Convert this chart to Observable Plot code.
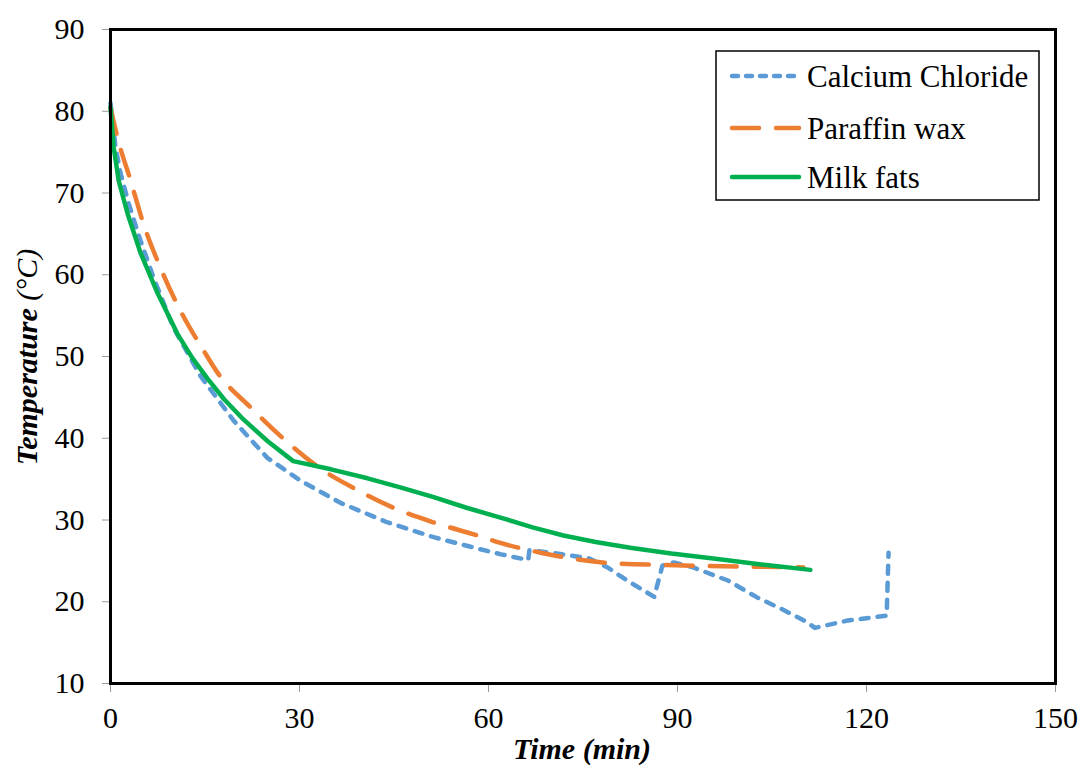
<!DOCTYPE html>
<html>
<head>
<meta charset="utf-8">
<script src="https://cdn.jsdelivr.net/npm/d3@7"></script>
<script src="https://cdn.jsdelivr.net/npm/@observablehq/plot@0.6"></script>
<style>
  html, body { margin: 0; padding: 0; background: #fff; }
  #chart { position: relative; width: 1082px; height: 767px; }
</style>
</head>
<body>
<div id="chart"></div>
<script>
// ---- Data (time in min, temperature in °C) ----
const seriesNames = ["Calcium Chloride", "Paraffin wax", "Milk fats"];
const seriesColors = ["#5B9BD5", "#ED7D31", "#00B050"];

const calciumTime = [0, 0.8, 1.6, 2.9, 4.4, 6.8, 10, 14.3, 19.5, 24.9, 30.2, 36.5, 44, 51.3, 58.3, 62, 66.3, 66.5, 70, 76, 78.9, 82, 86.3, 87.6, 89.4, 92.5, 98, 102.7, 106.3, 110.6, 111.8, 117, 123.2, 123.5];
const calciumTemp = [81.0, 75.6, 72.4, 68.7, 65.0, 59.7, 53.5, 47.6, 42.2, 37.6, 34.8, 32.1, 29.7, 27.9, 26.5, 25.8, 25.1, 26.3, 26.0, 25.3, 24.2, 22.6, 20.6, 24.4, 24.8, 24.2, 22.6, 20.5, 19.2, 17.5, 16.8, 17.7, 18.3, 26.0];

const paraffinTime = [0, 1.1, 3.2, 5.2, 7.9, 11.1, 14.8, 17.1, 22.2, 28.1, 33.3, 38.6, 44.9, 51.3, 58.7, 61.9, 68.3, 79.8, 87.8, 101, 110];
const paraffinTemp = [80.5, 76.8, 71.5, 66.3, 60.9, 55.6, 50.7, 47.9, 43.8, 39.5, 36.3, 33.9, 31.5, 29.7, 28.0, 27.2, 26.0, 24.7, 24.5, 24.3, 24.2];

const milkTime = [0, 0.5, 1.3, 2.7, 4.8, 7.5, 10.6, 13, 15.4, 18, 21.1, 25, 29.0, 35, 40.8, 46, 51.3, 56.5, 61.9, 67, 71.9, 77, 82.5, 89, 95.7, 103, 111.1];
const milkTemp = [80.5, 75.6, 71.5, 67.5, 62.6, 57.7, 52.8, 49.8, 47.3, 44.8, 42.3, 39.6, 37.2, 36.2, 35.1, 34.0, 32.8, 31.5, 30.3, 29.1, 28.1, 27.3, 26.6, 25.9, 25.3, 24.6, 23.9];

const xTicks = [0, 30, 60, 90, 120, 150];
const yTicks = [10, 20, 30, 40, 50, 60, 70, 80, 90];

// ---- Build table ----
const rows = [];
calciumTime.forEach((t, i) => rows.push({series: seriesNames[0], t, T: calciumTemp[i]}));
paraffinTime.forEach((t, i) => rows.push({series: seriesNames[1], t, T: paraffinTemp[i]}));
milkTime.forEach((t, i) => rows.push({series: seriesNames[2], t, T: milkTemp[i]}));

const FONT = "'Liberation Serif', 'Times New Roman', Times, serif";

const styles = {
  "Calcium Chloride": {dash: "8,9", width: 4.5, cap: "round", curve: "linear"},
  "Paraffin wax": {dash: "27,17", width: 4.5, cap: "round", curve: "monotone-x"},
  "Milk fats": {dash: null, width: 4.5, cap: "round", curve: "linear"}
};

const lineMarks = seriesNames.map((name, i) =>
  Plot.line(rows.filter(d => d.series === name), {
    x: "t", y: "T",
    stroke: seriesColors[i],
    strokeWidth: styles[name].width,
    strokeDasharray: styles[name].dash,
    strokeLinecap: styles[name].cap,
    strokeLinejoin: "round",
    curve: styles[name].curve
  })
);

const chart = Plot.plot({
  width: 1082,
  height: 767,
  marginLeft: 110,
  marginRight: 27,
  marginTop: 29,
  marginBottom: 84,
  style: {fontFamily: FONT, fontSize: "30px", color: "#000", background: "#fff", overflow: "visible"},
  x: {domain: [0, 150]},
  y: {domain: [10, 90]},
  marks: [
    Plot.axisX({ticks: xTicks, tickSize: 9, tickPadding: 14, stroke: "#9a9a9a", fill: "#000", fontSize: 30, label: null, tickFormat: d => String(d)}),
    Plot.axisY({ticks: yTicks, tickSize: 8, tickPadding: 18, stroke: "#9a9a9a", fill: "#000", fontSize: 30, label: null, tickFormat: d => String(d)}),
    ...lineMarks,
    Plot.frame({stroke: "#000", strokeWidth: 3})
  ]
});

document.getElementById("chart").appendChild(chart);

// ---- Axis titles & legend ----
const svg = d3.select(chart);
svg.append("text")
  .attr("x", 582).attr("y", 759)
  .attr("text-anchor", "middle")
  .style("font-family", FONT).style("font-size", "30px")
  .style("font-style", "italic").style("font-weight", "bold")
  .text("Time (min)");

const yl = svg.append("text")
  .attr("transform", "translate(37,357) rotate(-90)")
  .attr("text-anchor", "middle")
  .style("font-family", FONT).style("font-size", "30px")
  .style("font-style", "italic");
yl.append("tspan").style("font-weight", "bold").text("Temperature");
yl.append("tspan").text(" (\u00B0C)");

const lg = svg.append("g");
lg.append("rect")
  .attr("x", 716).attr("y", 51).attr("width", 323).attr("height", 149)
  .attr("fill", "#fff").attr("stroke", "#000").attr("stroke-width", 1.5);
const rowY = [76, 128, 177];
const legendDash = ["6,8", "27,17", null];
seriesNames.forEach((name, i) => {
  lg.append("line")
    .attr("x1", 732).attr("x2", 799).attr("y1", rowY[i]).attr("y2", rowY[i])
    .attr("stroke", seriesColors[i]).attr("stroke-width", styles[name].width)
    .attr("stroke-dasharray", legendDash[i])
    .attr("stroke-linecap", styles[name].cap);
  lg.append("text")
    .attr("x", 807).attr("y", rowY[i]).attr("dy", "0.35em")
    .attr("text-anchor", "start")
    .style("font-family", FONT).style("font-size", "31px")
    .text(name);
});
</script>
</body>
</html>
